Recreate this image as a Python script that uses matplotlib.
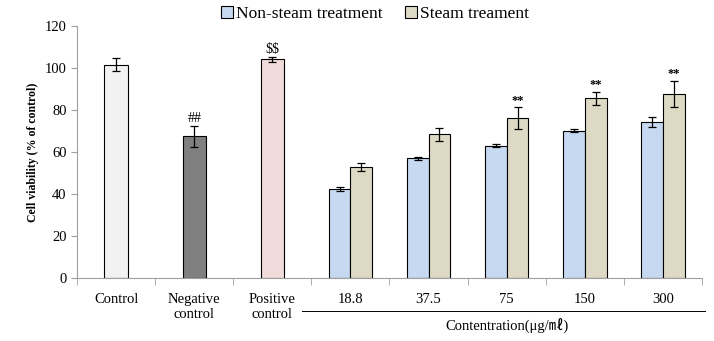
import numpy as np
import matplotlib
matplotlib.use("Agg")
import matplotlib.pyplot as plt
from matplotlib.patches import Patch

# single-bar groups
single_labels = ["Control", "Negative\ncontrol", "Positive\ncontrol"]
single_vals = [101.5, 67.5, 104.2]
single_err = [3.0, 5.0, 1.2]
single_colors = ["#F2F2F2", "#808080", "#F2DCDB"]
single_marks = ["", "##", "$$"]

# concentration groups
conc_labels = ["18.8", "37.5", "75", "150", "300"]
nonsteam_vals = [42.4, 57.0, 63.0, 70.0, 74.3]
nonsteam_err = [1.0, 0.8, 0.8, 0.7, 2.5]
steam_vals = [52.7, 68.4, 76.0, 85.6, 87.8]
steam_err = [1.8, 3.0, 5.3, 3.1, 6.2]
steam_marks = ["", "", "**", "**", "**"]

serif = "Liberation Serif"
plt.rcParams["font.family"] = [serif, "DejaVu Sans"]

fig = plt.figure(figsize=(7.14, 3.41), dpi=100)
ax = fig.add_axes([0.108, 0.185, 0.875, 0.739])

ekw = dict(ecolor="black", elinewidth=0.9, capsize=3, capthick=0.9)

xs = np.arange(len(single_vals))
ax.bar(xs, single_vals, width=0.3, color=single_colors, edgecolor="black",
       linewidth=0.8, yerr=single_err, error_kw=ekw, zorder=2)
for x, v, e, m in zip(xs, single_vals, single_err, single_marks):
    if m:
        ax.text(x, v + e + 0.5, m, ha="center", va="bottom", fontsize=10,
                parse_math=False)

xc = np.arange(len(conc_labels)) + len(single_vals)
w = 0.28
ax.bar(xc - w / 2, nonsteam_vals, width=w, color="#C6D9F1", edgecolor="black",
       linewidth=0.8, yerr=nonsteam_err, error_kw=ekw, zorder=2)
ax.bar(xc + w / 2, steam_vals, width=w, color="#DDD9C4", edgecolor="black",
       linewidth=0.8, yerr=steam_err, error_kw=ekw, zorder=2)
for x, v, e, m in zip(xc + w / 2, steam_vals, steam_err, steam_marks):
    if m:
        ax.text(x, v + e + 0.3, m, ha="center", va="bottom", fontsize=9,
                fontweight="bold")

n = len(single_vals) + len(conc_labels)
ax.set_xlim(-0.5, n - 0.5)
ax.set_ylim(0, 120)
ax.set_yticks(range(0, 121, 20))
ax.set_xticks(np.arange(n))
ax.set_xticklabels(single_labels + conc_labels, fontsize=10.5)
ax.set_xticks(np.arange(n + 1) - 0.5, minor=True)
ax.tick_params(axis="x", which="major", length=0, pad=11)
ax.tick_params(axis="x", which="minor", length=5, color="#A0A0A0")
ax.tick_params(axis="y", length=4, color="#A0A0A0", labelsize=10.5)
for s in ["top", "right"]:
    ax.spines[s].set_visible(False)
for s in ["left", "bottom"]:
    ax.spines[s].set_color("#A0A0A0")

ax.set_ylabel("Cell viability (% of control)", fontsize=8.5, fontweight="bold")

# concentration underline and label
fig.add_artist(plt.Line2D([0.423, 0.988], [0.088, 0.088], color="black", lw=0.7))
fig.text(0.71, 0.045, "Contentration(μg/㎖)", ha="center", va="center",
         fontsize=10.5, family=[serif, "Noto Sans CJK KR"])

handles = [Patch(facecolor="#C6D9F1", edgecolor="black", linewidth=0.8),
           Patch(facecolor="#DDD9C4", edgecolor="black", linewidth=0.8)]
fig.legend(handles, ["Non-steam treatment", "Steam treament"], loc="center",
           bbox_to_anchor=(0.525, 0.958), ncol=2, frameon=False, fontsize=12.5,
           handlelength=0.7, handleheight=0.7, handletextpad=0.15,
           columnspacing=1.3)

fig.savefig("out.png", dpi=100)
